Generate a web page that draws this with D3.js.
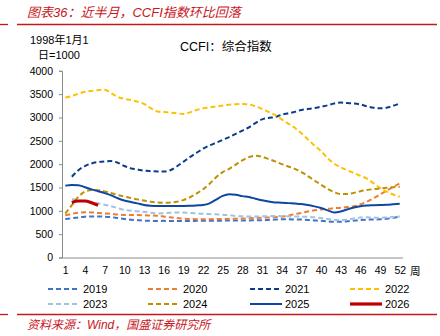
<!DOCTYPE html>
<html>
<head>
<meta charset="utf-8">
<script src="https://cdn.jsdelivr.net/npm/d3@7"></script>
<style>
  body { margin: 0; background: #fff; }
  text { font-family: "Liberation Sans", Arial, "Noto Sans CJK SC", sans-serif; }
  .cjk { font-family: "Liberation Sans", "Noto Sans CJK SC", sans-serif; }
</style>
</head>
<body>
<svg id="chart"></svg>
<script>
// weeks 1..52
const weeks = d3.range(1, 53);
const xTickWeeks = [1, 4, 7, 10, 13, 16, 19, 22, 25, 28, 31, 34, 37, 40, 43, 46, 49, 52];
const yTicks = [0, 500, 1000, 1500, 2000, 2500, 3000, 3500, 4000];

const y2019 = [827, 840, 860, 875, 880, 880, 876, 865, 845, 825, 810, 800, 790, 785, 780, 785, 782, 780, 780, 782,
  785, 788, 790, 790, 790, 792, 793, 795, 795, 796, 798, 805, 812, 818, 818, 815, 812, 805, 795, 785,
  775, 768, 765, 775, 790, 805, 812, 815, 818, 830, 850, 875];
const y2020 = [905, 935, 960, 970, 965, 955, 945, 935, 920, 912, 910, 908, 905, 900, 895, 880, 860, 845, 830, 825,
  822, 822, 822, 823, 825, 828, 832, 835, 840, 845, 850, 858, 865, 875, 900, 930, 955, 985, 1010, 1030,
  1045, 1055, 1065, 1080, 1100, 1140, 1195, 1270, 1350, 1430, 1510, 1590];
const y2021 = [null, 1730, 1870, 1960, 2015, 2045, 2060, 2065, 2030, 1960, 1910, 1885, 1860, 1850, 1845, 1840, 1870, 1950, 2050, 2150,
  2240, 2330, 2400, 2460, 2520, 2580, 2650, 2720, 2790, 2880, 2960, 2990, 3010, 3060, 3090, 3120, 3160, 3180, 3200, 3230,
  3260, 3300, 3320, 3310, 3300, 3280, 3240, 3210, 3195, 3210, 3250, 3300];
const y2022 = [3430, 3460, 3510, 3550, 3570, 3585, 3595, 3520, 3440, 3400, 3375, 3340, 3290, 3200, 3130, 3115, 3105, 3090, 3075, 3110,
  3160, 3195, 3215, 3235, 3255, 3275, 3285, 3290, 3280, 3240, 3185, 3120, 3055, 2960, 2870, 2780, 2660, 2530, 2400, 2280,
  2130, 2010, 1930, 1870, 1810, 1750, 1690, 1590, 1490, 1410, 1350, 1300];
const y2023 = [null, 1250, 1230, 1200, 1180, 1160, 1130, 1100, 1060, 1020, 1005, 990, 980, 960, 940, 950, 960, 965, 965, 955,
  945, 935, 930, 925, 918, 905, 890, 882, 880, 880, 882, 885, 890, 885, 880, 878, 875, 870, 860, 845,
  825, 808, 795, 810, 835, 855, 860, 855, 850, 858, 868, 880];
const y2024 = [940, 1120, 1300, 1410, 1445, 1440, 1415, 1380, 1340, 1305, 1275, 1245, 1220, 1195, 1180, 1175, 1180, 1195, 1230, 1290,
  1370, 1460, 1580, 1720, 1830, 1900, 1990, 2080, 2150, 2180, 2160, 2110, 2060, 2000, 1950, 1900, 1830, 1745, 1650, 1560,
  1470, 1400, 1360, 1360, 1385, 1420, 1445, 1465, 1480, 1495, 1505, 1515];
const y2025 = [1540, 1555, 1550, 1505, 1460, 1420, 1380, 1330, 1270, 1220, 1190, 1160, 1125, 1110, 1105, 1105, 1105, 1105, 1105, 1108,
  1115, 1125, 1160, 1240, 1320, 1355, 1345, 1315, 1295, 1260, 1225, 1200, 1180, 1175, 1165, 1155, 1145, 1125, 1095, 1060,
  1010, 965, 985, 1030, 1070, 1100, 1115, 1120, 1125, 1130, 1140, 1150];
const y2026 = [null, 1180, 1210, 1210, 1175, 1120];

const seriesNames = ['2019', '2020', '2021', '2022', '2023', '2024', '2025', '2026'];
const seriesValues = [y2019, y2020, y2021, y2022, y2023, y2024, y2025, y2026];
const seriesColors = ['#4472c4', '#ed7d31', '#0c3b8c', '#ffc000', '#9dc3e6', '#bf9000', '#0d47a1', '#c00000'];
const seriesDash = ['5,3', '5,3', '5,3', '5,3', '5,3', '5,3', null, null];
const seriesWidth = [2, 2, 2, 2, 2, 2, 2, 3.2];

const W = 440, H = 336;
const red = '#c8161d';

const svg = d3.select('#chart')
    .attr('width', W)
    .attr('height', H);

// header + footer
svg.append('text')
    .attr('class', 'cjk')
    .attr('x', 27)
    .attr('y', 17)
    .attr('fill', red)
    .attr('font-size', 13)
    .attr('font-style', 'italic')
    .text('图表36：近半月，CCFI指数环比回落');

[24.5, 314.5].forEach(y => {
  svg.append('line').attr('x1', 0).attr('x2', 8).attr('y1', y).attr('y2', y)
      .attr('stroke', red).attr('stroke-width', 1.3);
  svg.append('line').attr('x1', 17).attr('x2', 437).attr('y1', y).attr('y2', y)
      .attr('stroke', red).attr('stroke-width', 1.3);
});

svg.append('text')
    .attr('class', 'cjk')
    .attr('x', 27)
    .attr('y', 329)
    .attr('fill', red)
    .attr('font-size', 12)
    .attr('font-style', 'italic')
    .text('资料来源：Wind，国盛证券研究所');

// unit label and chart title
svg.append('text').attr('class', 'cjk').attr('x', 30).attr('y', 44)
    .attr('font-size', 11).attr('fill', '#000').text('1998年1月1');
svg.append('text').attr('class', 'cjk').attr('x', 38).attr('y', 59)
    .attr('font-size', 11).attr('fill', '#000').text('日=1000');
svg.append('text').attr('class', 'cjk').attr('x', 180).attr('y', 51)
    .attr('font-size', 12.5).attr('fill', '#000').text('CCFI：综合指数');

// scales
const x = d3.scalePoint()
    .domain(weeks)
    .range([62, 403])
    .padding(0.5);

const y = d3.scaleLinear()
    .domain([0, 4000])
    .range([257.5, 70.8]);

// axes
const yAxisG = svg.append('g')
    .attr('transform', 'translate(62,0)')
    .call(d3.axisLeft(y).tickValues(yTicks).tickSize(3).tickPadding(6).tickFormat(d3.format('d')));
yAxisG.selectAll('path, line').attr('stroke', '#8c8c8c');
yAxisG.selectAll('text').attr('font-size', 10.5).attr('fill', '#000')
    .attr('font-family', '"Liberation Sans", Arial, sans-serif');

const xAxisG = svg.append('g')
    .attr('transform', 'translate(0,257.5)')
    .call(d3.axisBottom(x).tickValues(xTickWeeks).tickSize(0).tickPadding(9).tickSizeOuter(0));
xAxisG.select('.domain').attr('stroke', '#8c8c8c').attr('d', 'M62,0.5H403');
xAxisG.selectAll('text').attr('font-size', 10.5).attr('fill', '#000')
    .attr('font-family', '"Liberation Sans", Arial, sans-serif');

svg.append('text').attr('class', 'cjk').attr('x', 410).attr('y', 275)
    .attr('font-size', 10.5).attr('fill', '#000').text('周');

// lines
const line = d3.line()
    .defined(d => d.v != null)
    .x(d => x(d.w))
    .y(d => y(d.v))
    .curve(d3.curveMonotoneX);

seriesValues.forEach((vals, i) => {
  const pts = vals.map((v, j) => ({w: weeks[j], v: v}));
  svg.append('path')
      .datum(pts)
      .attr('fill', 'none')
      .attr('stroke', seriesColors[i])
      .attr('stroke-width', seriesWidth[i])
      .attr('stroke-dasharray', seriesDash[i])
      .attr('d', line);
});

// legend
const legX = [48, 148, 250, 350];
const legY = [289, 304];
seriesNames.forEach((name, i) => {
  const lx = legX[i % 4], ly = legY[Math.floor(i / 4)];
  svg.append('line')
      .attr('x1', lx).attr('x2', lx + 32)
      .attr('y1', ly).attr('y2', ly)
      .attr('stroke', seriesColors[i])
      .attr('stroke-width', seriesWidth[i])
      .attr('stroke-dasharray', seriesDash[i]);
  svg.append('text')
      .attr('x', lx + 35).attr('y', ly + 4)
      .attr('font-size', 11).attr('fill', '#000')
      .text(name);
});
</script>
</body>
</html>
